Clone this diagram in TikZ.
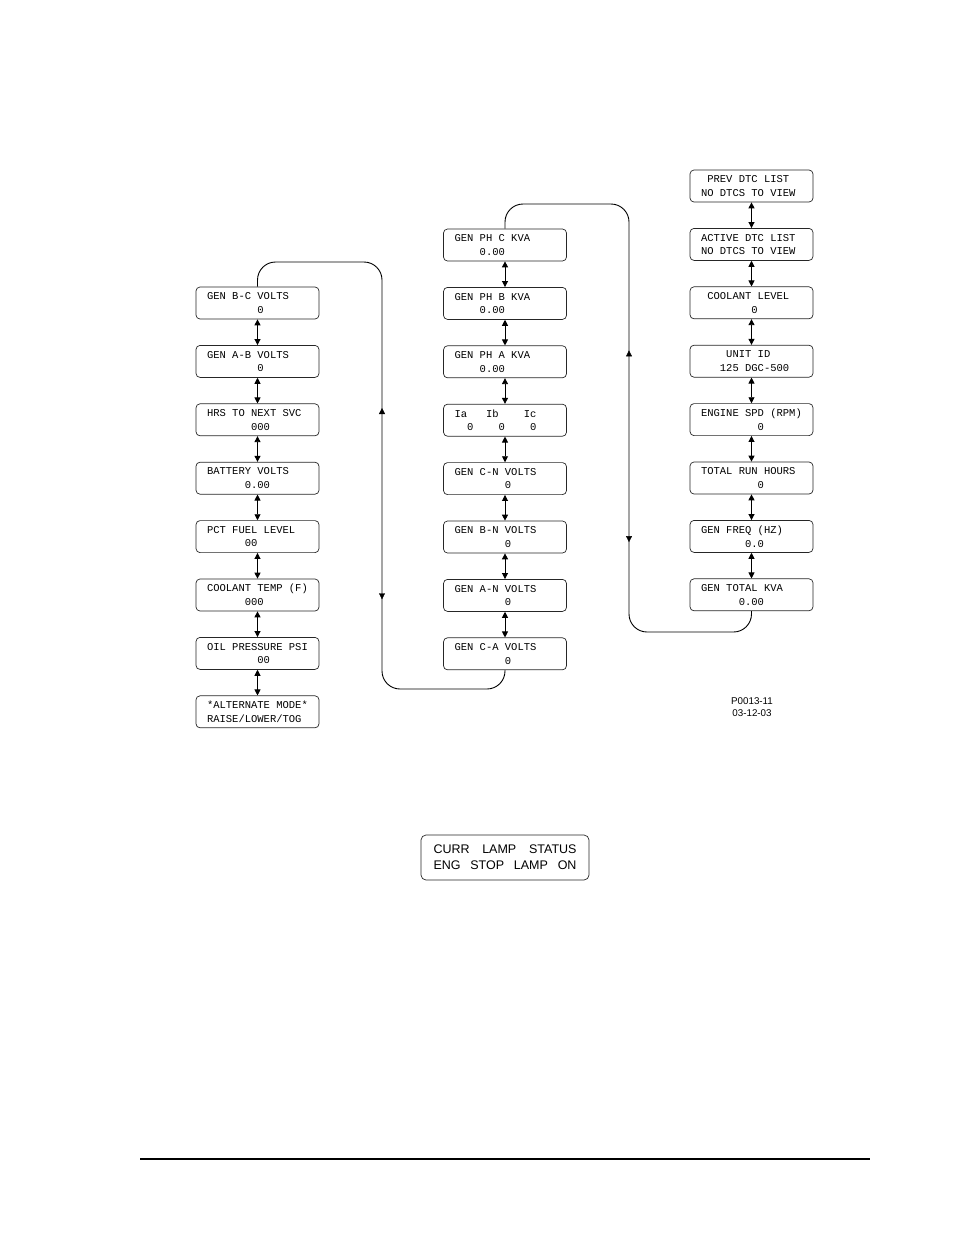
\documentclass[tikz,border=0pt]{standalone}
\usepackage{fontspec}
\setmainfont{Liberation Sans}
\newfontfamily\lcdfont{Liberation Mono}
\usetikzlibrary{positioning,arrows.meta,decorations.markings}
\newcommand{\cols}[1]{\hspace*{#1\fontcharwd\font`0}}
\newcommand{\lcdspace}{\spaceskip=\fontcharwd\font`0\relax}
\newcommand{\lampline}[1]{\makebox[143pt][s]{#1}}
\tikzset{
  lcd/.style={draw=black!85, rounded corners=4pt, align=left, text width=101pt,
    inner xsep=11pt, inner ysep=2pt, minimum height=32pt, line width=0.7pt,
    font=\lcdfont\fontsize{10.5}{13.7}\selectfont, execute at begin node=\lcdspace},
  lamp/.style={draw=black!85, rounded corners=5pt, align=left, minimum width=168pt,
    minimum height=45pt, line width=0.7pt, font=\fontsize{12.5}{16}\selectfont},
  dbl/.style={{Triangle[length=6pt,width=6pt]}-{Triangle[length=6pt,width=6pt]},
    line width=0.9pt},
  wrap/.style={line width=0.9pt, rounded corners=18pt},
  bidir/.style={decorate, decoration={markings,
    mark=at position 0.342 with {\arrowreversed{Triangle[length=6pt,width=6pt]}},
    mark=at position 0.79 with {\arrow{Triangle[length=6pt,width=6pt]}}}},
}

\begin{document}
\begin{tikzpicture}[x=1pt, y=-1pt, node distance=25.7pt]
  \useasboundingbox (0,0) rectangle (954,1235);
  % left column
  \node[lcd] (bc) at (257.5,303) {GEN B-C VOLTS\\\cols{8}0};
  \node[lcd, below=of bc] (ab) {GEN A-B VOLTS\\\cols{8}0};
  \node[lcd, below=of ab] (hrs) {HRS TO NEXT SVC\\\cols{7}000};
  \node[lcd, below=of hrs] (bat) {BATTERY VOLTS\\\cols{6}0.00};
  \node[lcd, below=of bat] (fuel) {PCT FUEL LEVEL\\\cols{6}00};
  \node[lcd, below=of fuel] (ctemp) {COOLANT TEMP (F)\\\cols{6}000};
  \node[lcd, below=of ctemp] (oil) {OIL PRESSURE PSI\\\cols{8}00};
  \node[lcd, below=of oil] (alt) {*ALTERNATE MODE*\\RAISE/LOWER/TOG};
  % middle column
  \node[lcd] (phc) at (505,245) {GEN PH C KVA\\\cols{4}0.00};
  \node[lcd, below=of phc] (phb) {GEN PH B KVA\\\cols{4}0.00};
  \node[lcd, below=of phb] (pha) {GEN PH A KVA\\\cols{4}0.00};
  \node[lcd, below=of pha] (amps) {Ia\cols{3}Ib\cols{4}Ic\\\cols{2}0\cols{4}0\cols{4}0};
  \node[lcd, below=of amps] (cn) {GEN C-N VOLTS\\\cols{8}0};
  \node[lcd, below=of cn] (bn) {GEN B-N VOLTS\\\cols{8}0};
  \node[lcd, below=of bn] (an) {GEN A-N VOLTS\\\cols{8}0};
  \node[lcd, below=of an] (ca) {GEN C-A VOLTS\\\cols{8}0};
  % right column
  \node[lcd] (prev) at (751.5,186) {\cols{1}PREV DTC LIST\\NO DTCS TO VIEW};
  \node[lcd, below=of prev] (act) {ACTIVE DTC LIST\\NO DTCS TO VIEW};
  \node[lcd, below=of act] (clev) {\cols{1}COOLANT LEVEL\\\cols{8}0};
  \node[lcd, below=of clev] (unit) {\cols{4}UNIT ID\\\cols{3}125 DGC-500};
  \node[lcd, below=of unit] (eng) {ENGINE SPD (RPM)\\\cols{9}0};
  \node[lcd, below=of eng] (run) {TOTAL RUN HOURS\\\cols{9}0};
  \node[lcd, below=of run] (freq) {GEN FREQ (HZ)\\\cols{7}0.0};
  \node[lcd, below=of freq] (tkva) {GEN TOTAL KVA\\\cols{6}0.00};

  \foreach \a/\b in {bc/ab,ab/hrs,hrs/bat,bat/fuel,fuel/ctemp,ctemp/oil,oil/alt,
      phc/phb,phb/pha,pha/amps,amps/cn,cn/bn,bn/an,an/ca,
      prev/act,act/clev,clev/unit,unit/eng,eng/run,run/freq,freq/tkva}
    \draw[dbl] (\a) -- (\b);

  % wrap-around links
  \coordinate (lt) at (382,262);
  \coordinate (lb) at (382,689);
  \draw[wrap] (bc.north) |- (lt) -- (lb) -| (ca.south);
  \path[bidir] (lt) -- (lb);
  \coordinate (rt) at (629,204);
  \coordinate (rb) at (629,632);
  \draw[wrap] (phc.north) |- (rt) -- (rb) -| (tkva.south);
  \path[bidir] (rt) -- (rb);

  \node[font=\fontsize{9.8}{11.6}\selectfont, align=center] (fig) at (752,707)
    {P0013-11\\03-12-03};

  \node[lamp] (lamp) at (505,857.5)
    {\lampline{CURR LAMP STATUS}\\\lampline{ENG STOP LAMP ON}};

  \draw[line width=2pt] (140,1159) -- (870,1159);
\end{tikzpicture}
\end{document}
